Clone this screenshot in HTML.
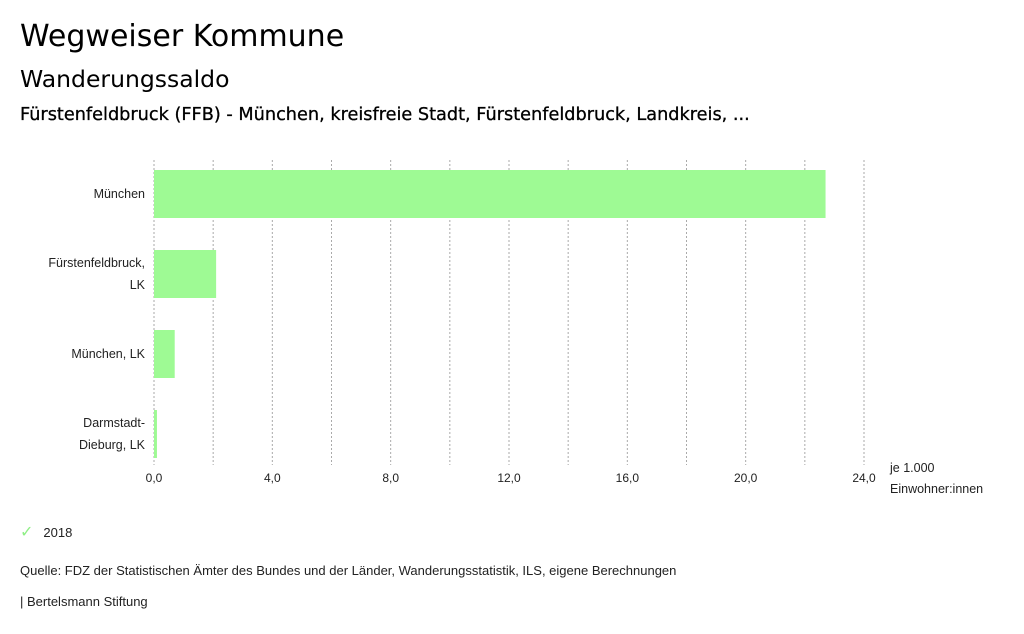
<!DOCTYPE html>
<html><head><meta charset="utf-8"><style>
body{margin:0;width:1024px;height:634px;background:#fff;font-family:"Liberation Sans",sans-serif;color:#000;overflow:hidden;position:relative}
.t{position:absolute;white-space:nowrap}
.d{font-family:"DejaVu Sans",sans-serif}
</style></head><body>
<div class="t d" style="left:20px;top:19px;font-size:30px">Wegweiser Kommune</div>
<div class="t d" style="left:20px;top:65px;font-size:23.5px">Wanderungssaldo</div>
<div class="t d" style="left:20px;top:105px;font-size:17.7px;-webkit-text-stroke:0.3px #000">Fürstenfeldbruck (FFB) - München, kreisfreie Stadt, Fürstenfeldbruck, Landkreis, ...</div>
<svg id="c" width="1024" height="634" style="position:absolute;left:0;top:0" font-family="Liberation Sans, sans-serif"></svg>
<div class="t" style="left:20px;top:522px;font-size:13px;color:#222"><span style="color:#8fef86;margin-right:10px;font-size:16px">✓</span>2018</div>
<div class="t" style="left:20px;top:563px;font-size:13px;color:#222">Quelle: FDZ der Statistischen Ämter des Bundes und der Länder, Wanderungsstatistik, ILS, eigene Berechnungen</div>
<div class="t" style="left:20px;top:594px;font-size:13px;color:#222">| Bertelsmann Stiftung</div>
<script>
const categories=[["München"],["Fürstenfeldbruck,","LK"],["München, LK"],["Darmstadt-","Dieburg, LK"]];
const values=[22.7,2.1,0.7,0.1];
const ticks=[0,4,8,12,16,20,24];
const tickLabels=["0,0","4,0","8,0","12,0","16,0","20,0","24,0"];
const grids=[0,2,4,6,8,10,12,14,16,18,20,22,24];
const svg=document.getElementById('c');const NS='http://www.w3.org/2000/svg';
const x=v=>154+v*(710/24);
const y=i=>170+i*80;
function mk(t,a){const e=document.createElementNS(NS,t);for(const k in a)e.setAttribute(k,a[k]);svg.appendChild(e);return e;}
grids.forEach(g=>{const l=mk('line',{x1:x(g),x2:x(g),y1:160,y2:465,stroke:'#aaa','stroke-dasharray':'2,2','stroke-width':1});

});
ticks.forEach((t,i)=>{const e=mk('text',{x:x(t),y:482,'text-anchor':'middle','font-size':12,fill:'#222'});e.textContent=tickLabels[i];

});
values.forEach((v,i)=>{const r=mk('rect',{x:x(0),y:y(i),width:x(v)-x(0),height:48,fill:'#9efa94'});


const lines=categories[i];const cy=y(i)+24;
lines.forEach((s,j)=>{const e=mk('text',{x:145,y:cy+4+(j-(lines.length-1)/2)*22,'text-anchor':'end','font-size':12.5,fill:'#222'});e.textContent=s;

});});
[["je 1.000",472],["Einwohner:innen",493]].forEach(([s,yy])=>{const e=mk('text',{x:890,y:yy,'font-size':12.5,fill:'#222'});e.textContent=s;

});
</script>
</body></html>
